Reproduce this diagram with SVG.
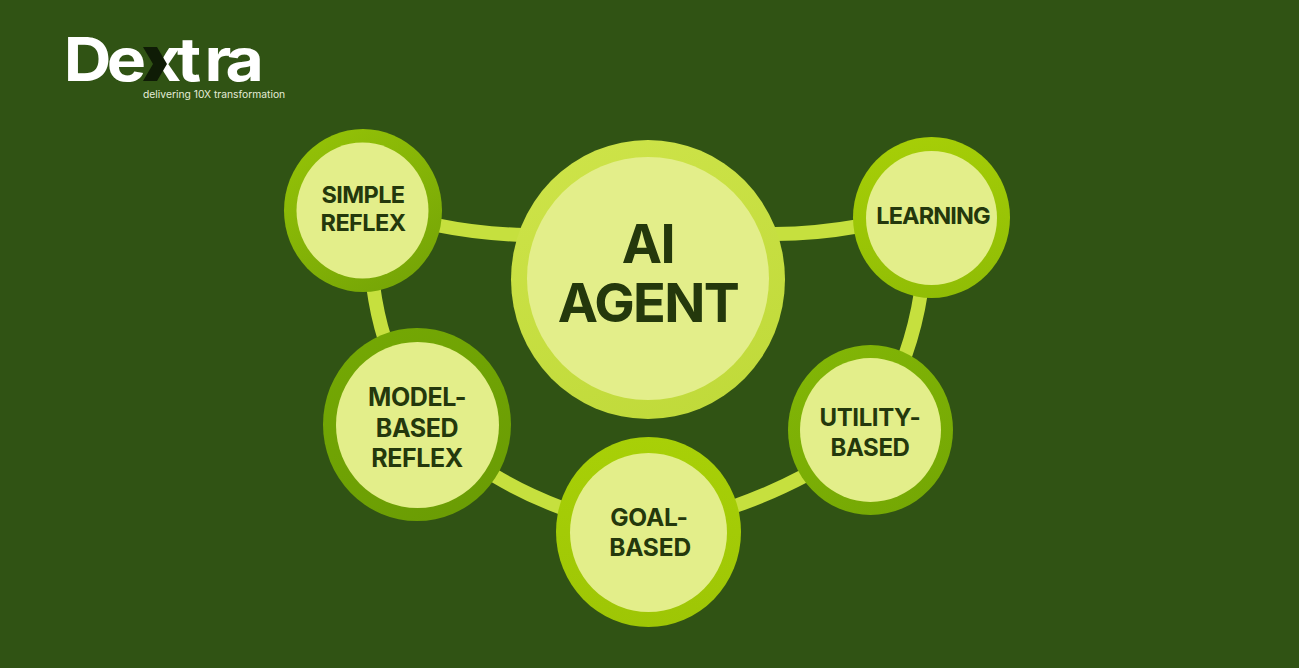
<svg xmlns="http://www.w3.org/2000/svg" width="1299" height="668" viewBox="0 0 1299 668">
<defs>
<linearGradient id="g1" x1="0.2" y1="0" x2="0.8" y2="1"><stop offset="0" stop-color="#94c207"/><stop offset="1" stop-color="#74a406"/></linearGradient>
<linearGradient id="g2" x1="0.2" y1="0" x2="0.8" y2="1"><stop offset="0" stop-color="#74a804"/><stop offset="1" stop-color="#6a9c04"/></linearGradient>
<linearGradient id="g3" x1="0" y1="0" x2="0" y2="1"><stop offset="0" stop-color="#a8d007"/><stop offset="1" stop-color="#9ec605"/></linearGradient>
<linearGradient id="g4" x1="0.2" y1="0" x2="0.8" y2="1"><stop offset="0" stop-color="#82b606"/><stop offset="1" stop-color="#74a704"/></linearGradient>
<linearGradient id="g5" x1="0.4" y1="0" x2="0.6" y2="1"><stop offset="0" stop-color="#a6ce07"/><stop offset="1" stop-color="#90bd05"/></linearGradient>
<linearGradient id="g6" x1="0.3" y1="0" x2="0.7" y2="1"><stop offset="0" stop-color="#cde348"/><stop offset="1" stop-color="#c0da3a"/></linearGradient>
</defs>
<style>
.lbl{font-family:Inter,"Liberation Sans",sans-serif;font-weight:650;fill:#24380c;text-anchor:middle;font-size:24px}
.inner{fill:#e3ee8a}
.c{fill:none;stroke:#c6e03e;stroke-width:14}
</style>
<rect width="1299" height="668" fill="#305314"/>
<g id="logo">
<text transform="translate(0 81) scale(1.1 1)" y="0" x="58 97 130 161 186 205" font-family="Inter,'Liberation Sans',sans-serif" font-weight="700" font-size="60" fill="#fff">Dextra</text>
<polygon points="143,47 157,47 167,64 157,81 143,81 153,64" fill="#0f1c06"/>
<text x="143" y="98" font-family="Inter,'Liberation Sans',sans-serif" font-size="10.300" fill="#e4ecd8">delivering 10X transformation</text>
</g>
<g id="connectors">
<path class="c" d="M436 225Q480 234 525 235"/>
<path class="c" d="M373 285Q377 315 385 340"/>
<path class="c" d="M775 234Q815 234 860 226"/>
<path class="c" d="M921 292Q916 325 905 356"/>
<path class="c" d="M495 476Q525 494 562 508"/>
<path class="c" d="M735 506Q770 494 808 474"/>
</g>
<g id="simple-reflex"><ellipse cx="363" cy="210.500" rx="79" ry="81.500" fill="url(#g1)"/><ellipse class="inner" cx="362.500" cy="210.500" rx="66" ry="68"/><text class="lbl" style="font-size:23.500px;letter-spacing:-.6px"><tspan x="363" y="203">SIMPLE</tspan><tspan x="363" y="231">REFLEX</tspan></text></g>
<g id="model-based-reflex"><ellipse cx="417" cy="424.500" rx="94" ry="96.500" fill="url(#g2)"/><ellipse class="inner" cx="417.500" cy="425" rx="81.500" ry="83"/><text class="lbl" style="font-size:25px;letter-spacing:-.4px"><tspan x="417" y="406">MODEL-</tspan><tspan x="417" y="437">BASED</tspan><tspan x="417" y="467">REFLEX</tspan></text></g>
<g id="goal-based"><ellipse cx="648.500" cy="532" rx="92.500" ry="95" fill="url(#g3)"/><ellipse class="inner" cx="648.500" cy="532.500" rx="78.500" ry="79.500"/><text class="lbl" style="font-size:24.500px;letter-spacing:-.2px"><tspan x="649" y="526">GOAL-</tspan><tspan x="650" y="556">BASED</tspan></text></g>
<g id="utility-based"><ellipse cx="870.500" cy="430" rx="82.500" ry="85" fill="url(#g4)"/><ellipse class="inner" cx="870.500" cy="430" rx="70.500" ry="72"/><text class="lbl" style="font-size:24px;letter-spacing:-.4px"><tspan x="870" y="426">UTILITY-</tspan><tspan x="870" y="456">BASED</tspan></text></g>
<g id="learning"><ellipse cx="931.500" cy="217.500" rx="78.500" ry="80.500" fill="url(#g5)"/><ellipse class="inner" cx="931.500" cy="218" rx="65.500" ry="67"/><text class="lbl" x="933" y="224" style="font-size:23.500px;letter-spacing:-.9px">LEARNING</text></g>
<g id="ai-agent"><ellipse cx="648" cy="279.500" rx="137" ry="139.500" fill="url(#g6)"/><ellipse class="inner" cx="648" cy="278.500" rx="121" ry="121.500"/><text class="lbl" style="font-size:54px;letter-spacing:-1.600px"><tspan x="648" y="263">AI</tspan><tspan x="648" y="322">AGENT</tspan></text></g>
</svg>
